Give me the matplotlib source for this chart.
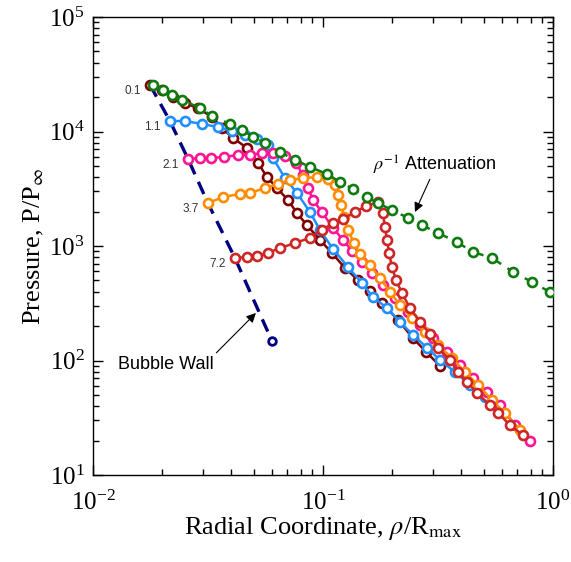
import matplotlib
matplotlib.use('Agg')
import matplotlib.pyplot as plt
import numpy as np

plt.rcParams['font.family'] = ['Liberation Serif', 'DejaVu Serif']
plt.rcParams['mathtext.fontset'] = 'stix'

# ─── DATA ───────────────────────────────────────────────────────────────────
# pressure profiles at five times, each starting at the bubble wall
times = ["0.1", "1.1", "2.1", "3.7", "7.2"]

r_01 = [0.0177, 0.0200, 0.0222, 0.0251, 0.0286, 0.0329, 0.0364, 0.0406, 0.0468,
        0.0522, 0.0571, 0.0631, 0.0704, 0.0771, 0.0852, 0.0970, 0.1094, 0.1246,
        0.1419, 0.1601, 0.1804, 0.2118, 0.2461, 0.2805, 0.3227]
p_01 = [25500, 23000, 20000, 17700, 16000, 13400, 10700, 8770, 7170,
        5310, 4000, 3210, 2520, 1940, 1520, 1130, 869, 642,
        505, 405, 318, 226, 157, 119, 89.6]

r_11 = [0.0216, 0.0251, 0.0298, 0.0350, 0.0402, 0.0459, 0.0517, 0.0576, 0.0606,
        0.0683, 0.0771, 0.0878, 0.0970, 0.1105, 0.1284, 0.1477, 0.1649, 0.1898,
        0.2162, 0.2461, 0.2834, 0.3227, 0.3748, 0.4357, 0.5061]
p_11 = [12350, 12350, 11630, 10940, 10100, 9320, 8600, 7620, 5870,
        3920, 2900, 1980, 1380, 942, 655, 475, 358, 287,
        217, 167, 129, 101, 79.3, 61.1, 47.9]

r_21 = [0.0259, 0.0292, 0.0326, 0.0372, 0.0427, 0.0482, 0.0543, 0.0606, 0.0683,
        0.0763, 0.0818, 0.0861, 0.0905, 0.0989, 0.1105, 0.1222, 0.1337, 0.1477,
        0.1633, 0.1822, 0.2056, 0.2342, 0.2641, 0.3007, 0.3463, 0.3942, 0.4488,
        0.5166, 0.5883, 0.6834, 0.7943]
p_21 = [5750, 5870, 5870, 5990, 6240, 6240, 6500, 6500, 6110,
        5310, 4170, 3210, 2520, 1980, 1440, 1130, 905, 725,
        581, 456, 352, 265, 204, 157, 119, 91.4, 70.4,
        53.0, 40.8, 27.3, 19.8]

r_37 = [0.0316, 0.0368, 0.0436, 0.0482, 0.0559, 0.0637, 0.0719, 0.0818, 0.0942,
        0.1052, 0.1128, 0.1163, 0.1198, 0.1235, 0.1284, 0.1364, 0.1448, 0.1601,
        0.1769, 0.1956, 0.2162, 0.2437, 0.2776, 0.3164, 0.3637, 0.4143, 0.4719,
        0.5429, 0.6183, 0.7187]
p_37 = [2370, 2680, 2850, 2900, 3210, 3480, 3770, 3920, 4000,
        3850, 3410, 2790, 2280, 1800, 1380, 1060, 851, 682,
        526, 396, 305, 235, 178, 137, 105, 79.3, 61.1,
        45.2, 34.8, 24.7]

r_72 = [0.0414, 0.0468, 0.0517, 0.0576, 0.0650, 0.0756, 0.0878, 0.0989, 0.1105,
        0.1222, 0.1377, 0.1538, 0.1734, 0.1822, 0.1859, 0.1898, 0.1937, 0.1995,
        0.2077, 0.2205, 0.2389, 0.2641, 0.2919, 0.3164, 0.3566, 0.3865, 0.4230,
        0.4675, 0.5322, 0.5768, 0.6502, 0.7403]
p_72 = [786, 801, 817, 868, 961, 1060, 1180, 1380, 1580,
        1720, 1980, 2230, 2420, 1950, 1460, 1130, 868, 655,
        505, 388, 287, 217, 170, 129, 101, 79.3, 64.9,
        51.9, 40.8, 34.8, 27.3, 22.3]

# peak pressure (rho^-1 attenuation)
r_peak = [0.0182, 0.0202, 0.0221, 0.0244, 0.0292, 0.0329, 0.0394, 0.0444, 0.0497,
          0.0560, 0.0650, 0.0756, 0.0878, 0.1041, 0.1186, 0.1350, 0.1553, 0.1734,
          0.1995, 0.2342, 0.2694, 0.3162, 0.3825, 0.4490, 0.5430, 0.6702, 0.8102, 0.970]
p_peak = [25470, 23030, 20840, 18840, 16040, 13650, 11630, 10300, 8950,
          7940, 6620, 5640, 4900, 4250, 3620, 3150, 2680, 2370,
          2060, 1760, 1520, 1300, 1080, 887, 786, 593, 485, 396]

# bubble wall trajectory
r_wall = [0.0177, 0.0216, 0.0259, 0.0316, 0.0414, 0.0600]
p_wall = [25500, 12350, 5750, 2370, 786, 148]

profiles = [(r_01, p_01), (r_11, p_11), (r_21, p_21), (r_37, p_37), (r_72, p_72)]
COLORS = ['#800000', '#1f8fff', '#ff1493', '#ff8c00', '#cd2626']

# ─── FIGURE ─────────────────────────────────────────────────────────────────
fig = plt.figure(figsize=(5.71, 5.62), dpi=100)
ax = fig.add_axes([93/571, 1 - 475/562, 460/571, 458/562])

ax.plot(r_wall, p_wall, color='#000080', lw=2.4, ls=(0, (4, 2.5)),
        marker='o', ms=5.5, mfc='white', mec='#000080', mew=2, zorder=2)

for (r, p), col in zip(profiles, COLORS):
    ax.plot(r, p, color=col, lw=1.8, marker='o', ms=6.5, mfc='white',
            mec=col, mew=1.9, zorder=3)

ax.plot(r_peak, p_peak, color='#0f7a0f', lw=1.8, ls=(0, (5, 3)),
        marker='o', ms=6.5, mfc='white', mec='#0f7a0f', mew=1.9, zorder=4)

for t, (r, p) in zip(times, profiles):
    ax.annotate(t, (r[0], p[0]), xytext=(-9, -6), textcoords='offset pixels',
                ha='right', va='center', fontsize=8.5, color='#333333',
                family=['Liberation Sans', 'DejaVu Sans'])

ax.annotate(r'$\rho^{-1}$ Attenuation', xy=(0.251, 1980), xytext=(0.165, 5100),
            ha='left', va='center', fontsize=13, family=['Liberation Sans', 'DejaVu Sans'],
            arrowprops=dict(arrowstyle='-|>', color='black', lw=0.8,
                            shrinkA=0, shrinkB=0, mutation_scale=14,
                            relpos=(0.47, 0.0)))
ax.annotate('Bubble Wall', xy=(0.0511, 260), xytext=(0.01285, 93),
            ha='left', va='center', fontsize=13, family=['Liberation Sans', 'DejaVu Sans'],
            arrowprops=dict(arrowstyle='-|>', color='black', lw=0.8,
                            shrinkA=0, shrinkB=0, mutation_scale=14,
                            relpos=(0.98, 0.9)))

ax.set_xscale('log')
ax.set_yscale('log')
ax.set_xlim(1e-2, 1)
ax.set_ylim(1e1, 1e5)

ax.tick_params(which='both', direction='in', top=True, right=True, width=1)
ax.tick_params(which='major', length=7, labelsize=18)
ax.tick_params(which='minor', length=4)
ax.tick_params(axis='x', which='major', pad=11)
ax.tick_params(axis='y', which='major', pad=6)
for sp in ax.spines.values():
    sp.set_linewidth(1.0)

ax.set_xlabel(r'Radial Coordinate, $\rho$/R$_{\rm max}$', fontsize=19, labelpad=0)
ax.set_ylabel(r'Pressure, P/P$_{\infty}$', fontsize=19, labelpad=2)

fig.savefig('out.png', dpi=100)
